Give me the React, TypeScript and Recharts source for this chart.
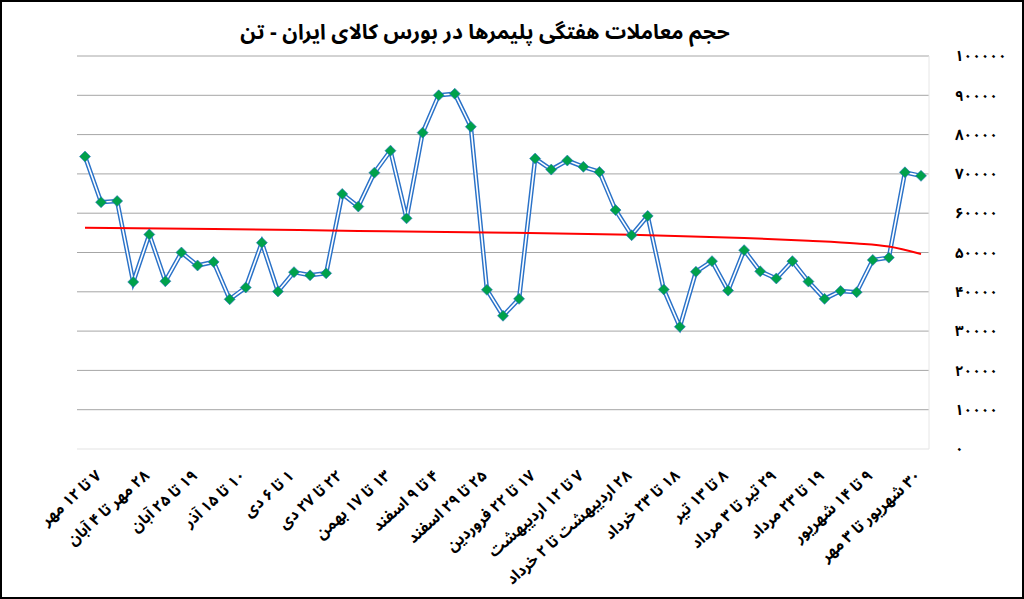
import React from 'react';
import { LineChart, Line, XAxis, YAxis, CartesianGrid } from 'recharts';

const weekLabels: string[] = [
  '۷ تا ۱۲ مهر', '۱۴ تا ۱۹ مهر', '۲۱ تا ۲۶ مهر', '۲۸ مهر تا ۴ آبان', '۵ تا ۱۰ آبان',
  '۱۲ تا ۱۷ آبان', '۱۹ تا ۲۵ آبان', '۲۶ آبان تا ۱ آذر', '۳ تا ۸ آذر', '۱۰ تا ۱۵ آذر',
  '۱۷ تا ۲۲ آذر', '۲۴ تا ۲۹ آذر', '۱ تا ۶ دی', '۸ تا ۱۳ دی', '۱۵ تا ۲۰ دی',
  '۲۲ تا ۲۷ دی', '۲۹ دی تا ۴ بهمن', '۶ تا ۱۱ بهمن', '۱۳ تا ۱۷ بهمن', '۲۰ تا ۲۵ بهمن',
  '۲۷ بهمن تا ۲ اسفند', '۴ تا ۹ اسفند', '۱۱ تا ۱۶ اسفند', '۱۸ تا ۲۳ اسفند', '۲۵ تا ۲۹ اسفند',
  '۳ تا ۸ فروردین', '۱۰ تا ۱۵ فروردین', '۱۷ تا ۲۲ فروردین', '۲۴ تا ۲۹ فروردین', '۳۱ فروردین تا ۵ اردیبهشت',
  '۷ تا ۱۲ اردیبهشت', '۱۴ تا ۱۹ اردیبهشت', '۲۱ تا ۲۶ اردیبهشت', '۲۸ اردیبهشت تا ۲ خرداد', '۴ تا ۹ خرداد',
  '۱۱ تا ۱۶ خرداد', '۱۸ تا ۲۳ خرداد', '۲۵ تا ۳۰ خرداد', '۱ تا ۶ تیر', '۸ تا ۱۳ تیر',
  '۱۵ تا ۲۰ تیر', '۲۲ تا ۲۷ تیر', '۲۹ تیر تا ۳ مرداد', '۵ تا ۱۰ مرداد', '۱۲ تا ۱۷ مرداد',
  '۱۹ تا ۲۳ مرداد', '۲۶ تا ۳۱ مرداد', '۲ تا ۷ شهریور', '۹ تا ۱۴ شهریور', '۱۶ تا ۲۱ شهریور',
  '۲۳ تا ۲۸ شهریور', '۳۰ شهریور تا ۳ مهر', '۶ تا ۱۱ مهر',
];

const volumes: number[] = [
  74400, 62800, 63100, 42500, 54600, 42700, 50000, 46700, 47600, 38100,
  41100, 52500, 40100, 45000, 44200, 44700, 64900, 61700, 70300, 75900,
  58700, 80500, 90000, 90400, 82000, 40500, 33900, 38200, 73900, 71100,
  73400, 71800, 70500, 60800, 54400, 59300, 40600, 31100, 45100, 47800,
  40300, 50600, 45200, 43400, 47800, 42600, 38200, 40200, 39900, 48100,
  48700, 70400, 69500,
];

// trend line at a few weeks (others left empty)
const trendIndex: number[] = [0, 8, 17, 25, 34, 41, 45, 48, 50, 52];
const trendValues: number[] = [56300, 56000, 55500, 55100, 54500, 53700, 53000, 52300, 51500, 49600];

const yTicks: number[] = [0, 10000, 20000, 30000, 40000, 50000, 60000, 70000, 80000, 90000, 100000];

const TITLE = 'حجم معاملات هفتگی پلیمرها در بورس کالای ایران - تن';

const toFa = (n: number | string) =>
  String(n).replace(/[0-9]/g, (d) => '۰۱۲۳۴۵۶۷۸۹'[Number(d)]);

const data = weekLabels.map((w, i) => {
  const k = trendIndex.indexOf(i);
  return { week: w, v: volumes[i], t: k >= 0 ? trendValues[k] : null };
});

const FONT = '"Noto Sans Arabic", "Noto Naskh Arabic", "DejaVu Sans", sans-serif';

const Diamond = (props: any) => {
  const { cx, cy, index } = props;
  if (cx == null || cy == null) return <g key={`d-${index}`} />;
  const r = 5.5;
  return (
    <path
      key={`d-${index}`}
      d={`M${cx},${cy - r} L${cx + r},${cy} L${cx},${cy + r} L${cx - r},${cy} Z`}
      fill="#00a14b"
      stroke="#2a72c8"
      strokeWidth={0.6}
    />
  );
};

const XTick = (props: any) => {
  const { x, payload } = props;
  const ax = x + 17;
  const ay = 477;
  return (
    <text
      x={ax}
      y={ay}
      transform={`rotate(-42, ${ax}, ${ay})`}
      direction="rtl"
      textAnchor="start"
      fontFamily={FONT}
      fontWeight="bold"
      fontSize={15.5}
      fill="#000"
    >
      {payload.value}
    </text>
  );
};

const YTick = (props: any) => {
  const { x, y, payload } = props;
  return (
    <text
      x={x}
      y={y}
      dy="0.35em"
      textAnchor="start"
      fontFamily={FONT}
      fontWeight="bold"
      fontSize={15}
      letterSpacing={2}
      fill="#000"
    >
      {toFa(payload.value)}
    </text>
  );
};

export default function App() {
  return (
    <div style={{ position: 'absolute', left: 0, top: 0, width: 1024, height: 599, background: '#fff' }}>
      <div
        dir="rtl"
        style={{
          position: 'absolute',
          left: 0,
          top: 10,
          width: 970,
          textAlign: 'center',
          fontFamily: FONT,
          fontWeight: 'bold',
          fontSize: 21,
          color: '#000',
        }}
      >
        {TITLE}
      </div>
      <LineChart
        width={1024}
        height={599}
        data={data}
        margin={{ top: 56, right: 0, left: 77, bottom: 0 }}
      >
        <CartesianGrid
          vertical={false}
          stroke="#a6a6a6"
          strokeWidth={1}
          horizontalValues={[10000, 20000, 30000, 40000, 50000, 60000, 70000, 80000, 90000, 100000]}
        />
        <XAxis
          dataKey="week"
          interval={2}
          height={150}
          padding={{ left: 8, right: 8 }}
          axisLine={{ stroke: '#e3e3e3' }}
          tickLine={false}
          tick={<XTick />}
        />
        <YAxis
          orientation="right"
          width={95}
          domain={[0, 100000]}
          ticks={yTicks}
          interval={0}
          axisLine={{ stroke: '#e6e6e6' }}
          tickLine={false}
          tickSize={6}
          tickMargin={20}
          tick={<YTick />}
        />
        <Line dataKey="v" stroke="#2a72c8" strokeWidth={4.5} dot={false} isAnimationActive={false} />
        <Line dataKey="v" stroke="#ffffff" strokeWidth={1.6} dot={false} isAnimationActive={false} />
        <Line
          dataKey="t"
          type="monotone"
          connectNulls
          stroke="#ff0000"
          strokeWidth={2}
          dot={false}
          isAnimationActive={false}
        />
        <Line dataKey="v" stroke="none" dot={<Diamond />} activeDot={false} isAnimationActive={false} />
      </LineChart>
      <div
        style={{
          position: 'absolute',
          left: 0,
          top: 0,
          width: 1024,
          height: 599,
          boxSizing: 'border-box',
          border: '2px solid #000',
          pointerEvents: 'none',
        }}
      />
    </div>
  );
}
